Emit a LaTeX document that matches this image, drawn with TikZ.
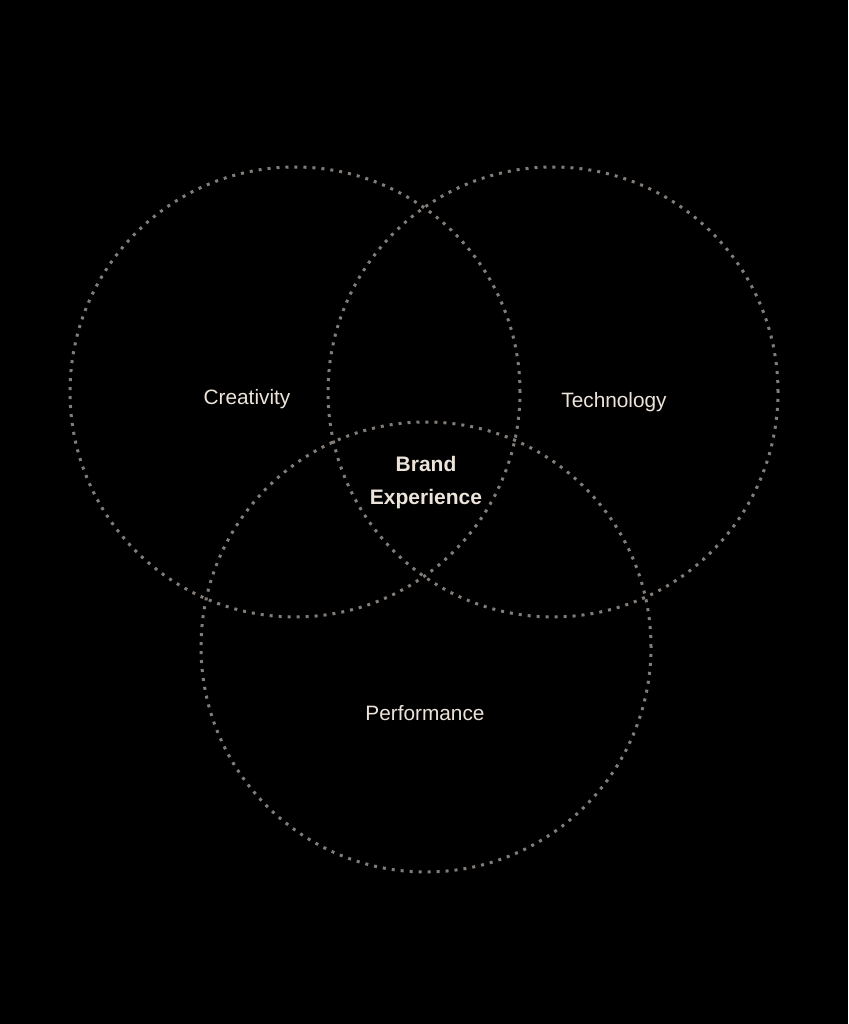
\documentclass[tikz,border=0pt]{standalone}
\usepackage{fontspec}
\setmainfont{Liberation Sans}
\usepackage{xcolor}
\usepackage{tikz}
\usetikzlibrary{calc,positioning}
\definecolor{ringgrey}{RGB}{130,125,120}
\definecolor{labelwhite}{RGB}{236,228,218}

\begin{document}
\begin{tikzpicture}[x=1pt,y=-1pt]
\fill[black] (0,0) rectangle (848,1024);
\useasboundingbox (0,0) rectangle (848,1024);
\newcommand{\drawring}[3]{\node[circle,draw=ringgrey,line width=3pt,dash pattern=on 3pt off 6pt,minimum size=450pt,inner sep=0pt] (#1) at (#2,#3) {};}
\drawring{creat}{295}{392}
\drawring{tech}{553}{392}
\drawring{perf}{426}{647}
\node[text=labelwhite,font=\fontsize{20.8}{24}\selectfont] (creatlbl) at (247,399) {Creativity};
\node[text=labelwhite,font=\fontsize{20.8}{24}\selectfont] (techlbl) at (614,402) {Technology};
\node[text=labelwhite,font=\fontsize{20.8}{24}\selectfont] (perflbl) at (425,713) {Performance};
\node[text=labelwhite,font=\bfseries\fontsize{21}{33}\selectfont,align=center] (brand) at (426,483) {Brand\\Experience};
\end{tikzpicture}
\end{document}
